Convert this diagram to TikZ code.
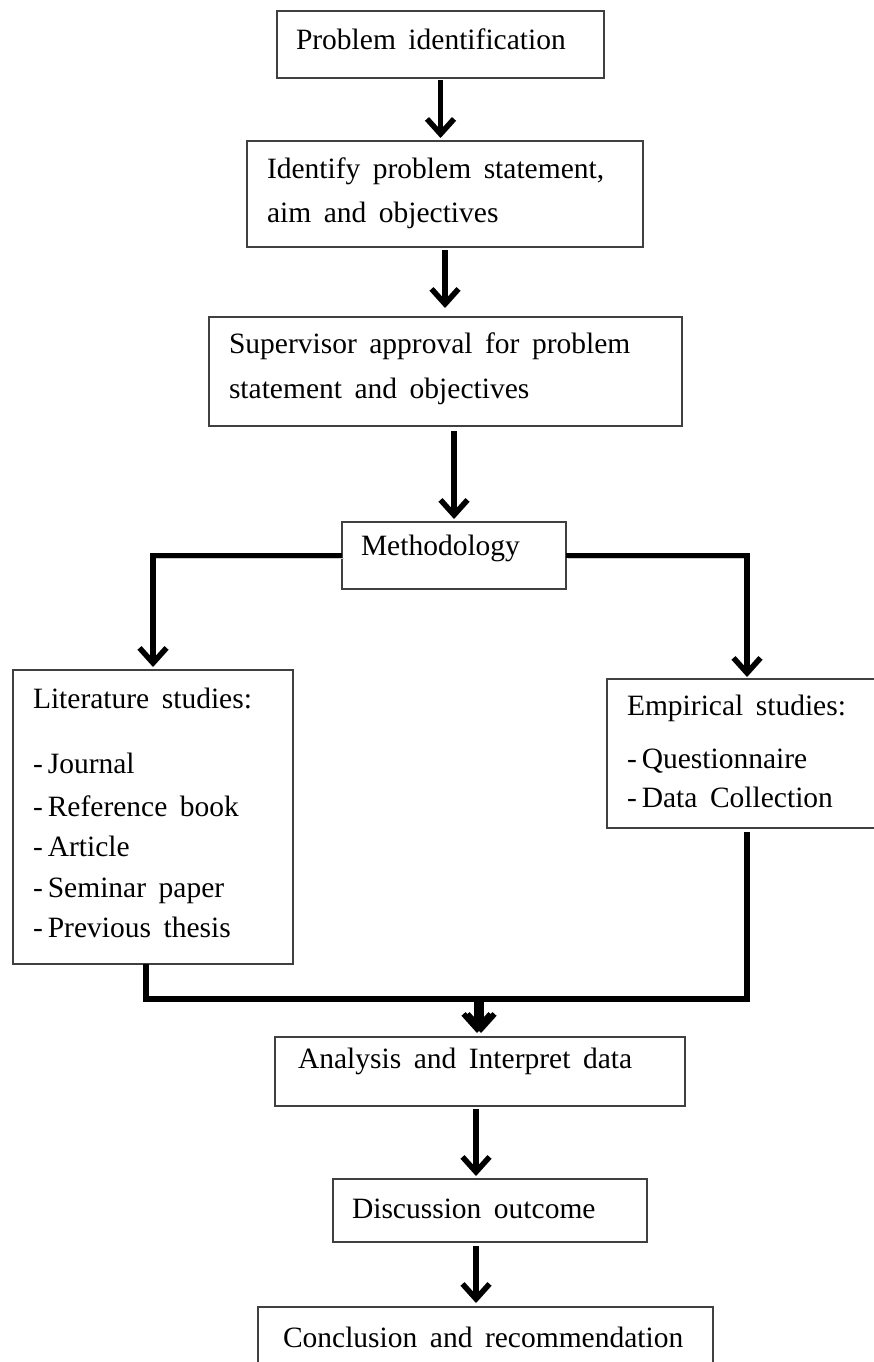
\documentclass[tikz,border=0pt]{standalone}
\usepackage{fontspec}
\setmainfont{Liberation Serif}[WordSpace=1.7]
\usetikzlibrary{arrows.meta,calc}
\newcommand{\dashitem}{-\hspace{5pt}}
\begin{document}
\begin{tikzpicture}[x=1pt,y=-1pt,
  box/.style={draw=black!75, line width=1.6pt, rectangle, inner sep=0pt, outer sep=0pt},
  txt/.style={anchor=base west, inner sep=0pt, outer sep=0pt, font=\fontsize{29.5}{40}\selectfont},
  conn/.style={line width=5.5pt, line join=miter, -{Straight Barb[length=15pt,width=27pt]},
    preaction={draw=black!20, transform canvas={shift={(1.5pt,-2.5pt)}}}}]
\useasboundingbox (0,0) rectangle (873,1362);
\fill[white] (0,0) rectangle (873,1362);
% boxes
\node[box, minimum width=327pt, minimum height=67pt] (b1) at (440.5,44.5) {};
\node[box, minimum width=396pt, minimum height=106pt] (b2) at (445,194) {};
\node[box, minimum width=473pt, minimum height=109pt] (b3) at (445.5,371.5) {};
\node[box, minimum width=224pt, minimum height=67pt] (b4) at (454,555.5) {};
\node[box, minimum width=280pt, minimum height=294pt] (lit) at (153,817) {};
\node[box, minimum width=269pt, minimum height=149pt] (emp) at (741.5,753.5) {};
\node[box, minimum width=410pt, minimum height=69pt] (an) at (480,1071.5) {};
\node[box, minimum width=314pt, minimum height=63pt] (di) at (490,1210.5) {};
\node[box, minimum width=455pt, minimum height=93pt] (co) at (485.5,1353.5) {};
\coordinate (jn) at (480,999);
% texts
\node[txt] (t1) at (296,50) {Problem identification};
\node[txt] (t2a) at (267,178) {Identify problem statement,};
\node[txt] (t2b) at (267,222) {aim and objectives};
\node[txt] (t3a) at (229,353) {Supervisor approval for problem};
\node[txt] (t3b) at (229,398) {statement and objectives};
\node[txt] (t4) at (361,555) {Methodology};
\node[txt] (l0) at (33,708) {Literature studies:};
\node[txt] (l1) at (33,773) {\dashitem Journal};
\node[txt] (l2) at (33,816) {\dashitem Reference book};
\node[txt] (l3) at (33,856) {\dashitem Article};
\node[txt] (l4) at (33,897) {\dashitem Seminar paper};
\node[txt] (l5) at (33,937) {\dashitem Previous thesis};
\node[txt] (e0) at (627,715) {Empirical studies:};
\node[txt] (e1) at (627,768) {\dashitem Questionnaire};
\node[txt] (e2) at (627,807) {\dashitem Data Collection};
\node[txt] (ta) at (298,1068) {Analysis and Interpret data};
\node[txt] (td) at (352,1218) {Discussion outcome};
\node[txt] (tc) at (283,1347) {Conclusion and recommendation};
% connectors
\draw[conn, shorten <=2pt, shorten >=3pt] (b1.south) -- (b1.south |- b2.north);
\draw[conn, shorten <=3pt, shorten >=9pt] (b2.south) -- (b2.south |- b3.north);
\draw[conn, shorten <=5pt, shorten >=3pt] (b3.south -| b4.north) -- (b4.north);
\draw[conn, shorten >=3pt] (b4.west) -| (lit.north);
\draw[conn, shorten >=2pt] (b4.east) -| ([xshift=5.5pt]emp.north);
\draw[conn, shorten >=4pt] ([xshift=-7pt]lit.south) |- ([xshift=-3pt]jn) -- ([xshift=-3pt]an.north);
\draw[conn, shorten <=4pt, shorten >=4pt] ([xshift=5.5pt]emp.south) |- ([xshift=1pt]jn) -- ([xshift=1pt]an.north);
\draw[conn, shorten <=3pt, shorten >=3pt] ([xshift=-4pt]an.south) -- ([xshift=-4pt]an.south |- di.north);
\draw[conn, shorten <=4pt, shorten >=4pt] ([xshift=-14pt]di.south) -- ([xshift=-14pt]di.south |- co.north);
\end{tikzpicture}
\end{document}
